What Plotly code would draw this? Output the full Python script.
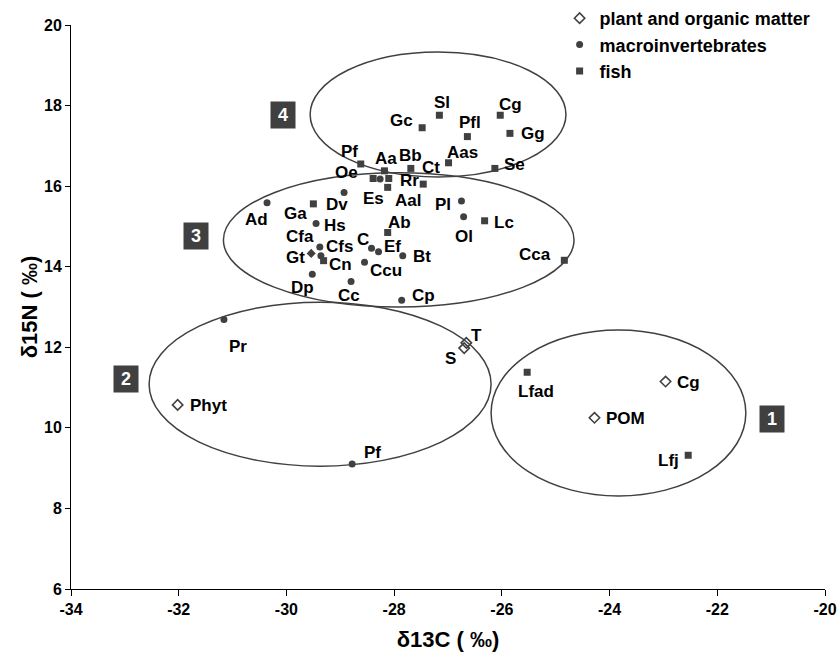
import plotly.graph_objects as go

# ---- data ----
plant_names = ["T", "S", "Phyt", "Cg", "POM"]
plant_x = [-26.66, -26.70, -32.02, -22.96, -24.28]
plant_y = [12.11, 11.98, 10.57, 11.15, 10.25]

macro_names = ["Oe", "Dv", "Ad", "Hs", "Cfa", "Cfs", "Gt", "C", "Ef", "Bt", "Ccu",
               "Dp", "Cc", "Cp", "Pl", "Ol", "Pr", "Pf"]
macro_x = [-28.26, -28.93, -30.36, -29.45, -29.38, -29.36, -29.54, -28.42, -28.29, -27.84, -28.55,
           -29.52, -28.80, -27.86, -26.75, -26.71, -31.16, -28.78]
macro_y = [16.18, 15.84, 15.59, 15.07, 14.49, 14.27, 14.33, 14.46, 14.37, 14.27, 14.11,
           13.81, 13.63, 13.17, 15.63, 15.24, 12.69, 9.10]

fish_names = ["Sl", "Gc", "Cg", "Pfl", "Gg", "Aas", "Se", "Pf", "Aa", "Bb", "Rr", "Ct",
              "Es", "Aal", "Ga", "Ab", "Cn", "Lc", "Cca", "Lfad", "Lfj"]
fish_x = [-27.16, -27.48, -26.03, -26.64, -25.85, -26.99, -26.13, -28.62, -28.18, -27.69, -28.10, -27.46,
          -28.39, -28.12, -29.50, -28.12, -29.31, -26.32, -24.84, -25.53, -22.54]
fish_y = [17.76, 17.45, 17.76, 17.23, 17.31, 16.58, 16.44, 16.55, 16.38, 16.44, 16.19, 16.05,
          16.19, 15.97, 15.56, 14.85, 14.15, 15.14, 14.16, 11.38, 9.32]

series_names = ["plant and organic matter", "macroinvertebrates", "fish"]
x_ticks = [-34, -32, -30, -28, -26, -24, -22, -20]
y_ticks = [6, 8, 10, 12, 14, 16, 18, 20]

# groups (ellipse extents in data units) and their number boxes
group_labels = ["1", "2", "3", "4"]
group_x0 = [-26.20, -32.55, -31.17, -29.56]
group_x1 = [-21.47, -26.20, -24.66, -24.81]
group_y0 = [8.31, 9.05, 13.00, 16.23]
group_y1 = [12.43, 13.12, 16.33, 19.33]
box_x = [-20.99, -32.98, -31.68, -30.06]
box_y = [10.22, 11.21, 14.76, 17.76]

# ---- label offsets in pixels (dx right, dy down) ----
plant_off = [(10, -7), (-14, 10), (31, 1), (23, 1), (31, 1)]
macro_off = [(-34, -6), (-7, 12), (-11, 17), (19, 2), (-20, -10), (19, -9), (-16, 4), (-9, -9),
             (14, -5), (19, 1), (21, 8), (-10, 13), (-2, 14), (22, -5), (-18, 3), (0, 20),
             (14, 27), (20, -12)]
fish_off = [(3, -13), (-21, -7), (10, -11), (3, -14), (23, 0), (14, -10), (20, -4), (-11, -12),
            (2, -12), (0, -13), (21, 2), (8, -17), (0, 20), (20, 13), (-18, 10), (12, -10),
            (17, 4), (19, 2), (-29, -6), (9, 19), (-20, 5)]

DARK = "#404040"
FONT = "Liberation Sans"

fig = go.Figure()
fig.add_trace(go.Scatter(
    x=plant_x, y=plant_y, mode="markers", name=series_names[0],
    marker=dict(symbol="diamond-open", size=8, color=DARK, line=dict(width=1.6, color=DARK)),
))
macro_symbols = ["diamond" if n == "Gt" else "circle" for n in macro_names]
fig.add_trace(go.Scatter(
    x=macro_x, y=macro_y, mode="markers", name=series_names[1],
    marker=dict(symbol=macro_symbols, size=7, color=DARK),
))
fig.add_trace(go.Scatter(
    x=fish_x, y=fish_y, mode="markers", name=series_names[2],
    marker=dict(symbol="square", size=7, color=DARK),
))

annotations = []
for names, xs, ys, offs in [(plant_names, plant_x, plant_y, plant_off),
                            (macro_names, macro_x, macro_y, macro_off),
                            (fish_names, fish_x, fish_y, fish_off)]:
    for n, xv, yv, (dx, dy) in zip(names, xs, ys, offs):
        annotations.append(dict(
            x=xv, y=yv, xref="x", yref="y", text=n, showarrow=False,
            xshift=dx, yshift=-dy,
            font=dict(family=FONT, size=17, color="#000000", weight="bold"),
        ))

for lab, bx, by in zip(group_labels, box_x, box_y):
    annotations.append(dict(
        x=bx, y=by, xref="x", yref="y", text=lab, showarrow=False,
        width=22, height=24, bgcolor=DARK,
        font=dict(family=FONT, size=18, color="#ffffff", weight="bold"),
    ))

shapes = []
for x0, x1, y0, y1 in zip(group_x0, group_x1, group_y0, group_y1):
    shapes.append(dict(type="circle", xref="x", yref="y", x0=x0, x1=x1, y0=y0, y1=y1,
                       line=dict(color=DARK, width=1.5)))

fig.update_layout(
    width=839, height=656,
    margin=dict(l=71, r=14, t=25, b=67, autoexpand=False),
    paper_bgcolor="white", plot_bgcolor="white",
    font=dict(family=FONT, color="#000000"),
    showlegend=True,
    legend=dict(
        xref="container", yref="container",
        x=0.667, y=1.0, xanchor="left", yanchor="top",
        bgcolor="rgba(0,0,0,0)", borderwidth=0,
        font=dict(family=FONT, size=18, color="#000000", weight="bold"),
        itemwidth=30, tracegroupgap=0,
    ),
    xaxis=dict(
        range=[-34, -20], tickvals=x_ticks, ticktext=[str(v) for v in x_ticks],
        showgrid=False, zeroline=False, showline=True, linecolor="#000000", linewidth=1,
        ticks="outside", ticklen=6, tickcolor="#000000", automargin=False,
        tickfont=dict(family=FONT, size=16, color="#000000", weight="bold"),
        title=dict(text="δ13C ( ‰)", font=dict(family=FONT, size=22, color="#000000", weight="bold"),
                   standoff=14),
    ),
    yaxis=dict(
        range=[6, 20], tickvals=y_ticks, ticktext=[str(v) for v in y_ticks],
        showgrid=False, zeroline=False, showline=True, linecolor="#000000", linewidth=1,
        ticks="outside", ticklen=5, tickcolor="#000000", automargin=False,
        tickfont=dict(family=FONT, size=16, color="#000000", weight="bold"),
        title=dict(text="δ15N ( ‰)", font=dict(family=FONT, size=22, color="#000000", weight="bold"),
                   standoff=0),
    ),
    annotations=annotations,
    shapes=shapes,
)

fig.write_html("out.html", config={"displayModeBar": False},
               post_script="document.body.style.margin='0px';")
